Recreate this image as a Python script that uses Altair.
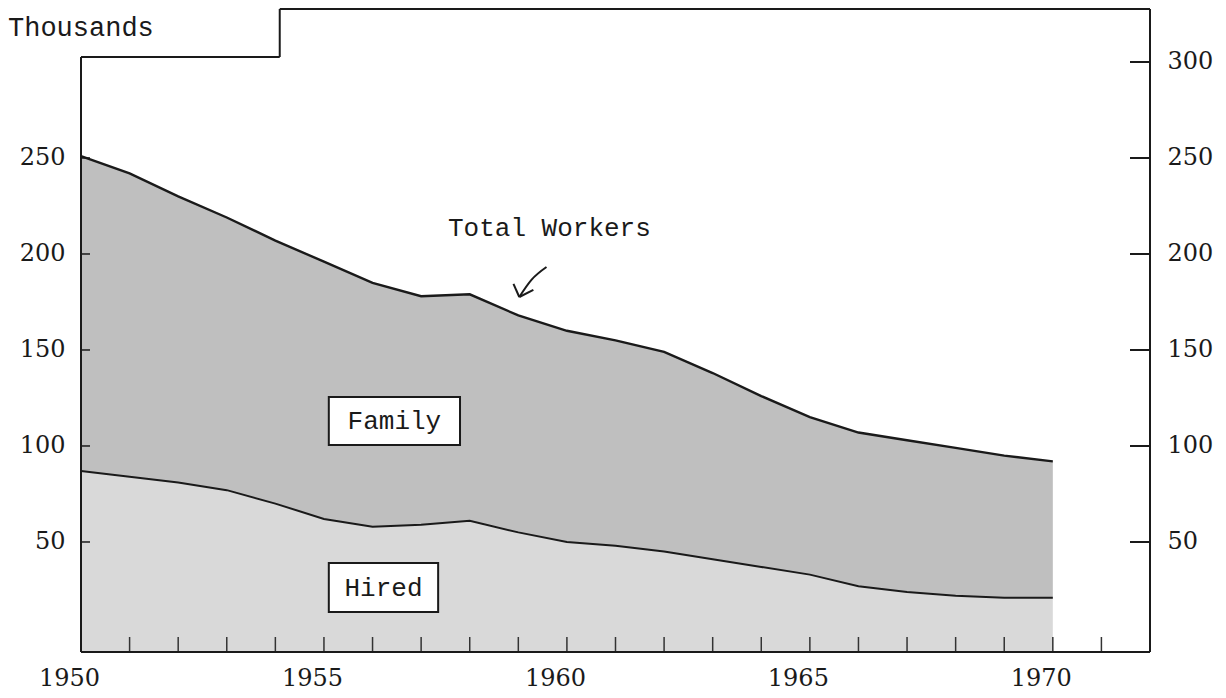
import altair as alt
import pandas as pd

# ---------------- data (thousands of workers) ----------------
years = list(range(1950, 1971))
total = [251, 242, 230, 219, 207, 196, 185, 178, 179, 168, 160,
         155, 149, 138, 126, 115, 107, 103, 99, 95, 92]
hired = [87, 84, 81, 77, 70, 62, 58, 59, 61, 55, 50,
         48, 45, 41, 37, 33, 27, 24, 22, 21, 21]

left_ticks = [50, 100, 150, 200, 250]
right_ticks = [50, 100, 150, 200, 250, 300]
year_labels = [1950, 1955, 1960, 1965, 1970]
year_ticks = list(range(1950, 1972))

# annotation boxes / texts (data units)
box_names = ["Family", "Hired"]
box_x0 = [1955.1, 1955.1]
box_x1 = [1957.8, 1957.35]
box_y0 = [100.5, 13.5]
box_y1 = [125.5, 39.0]

arrow_seg = [0, 0, 0, 1, 1, 2, 2]
arrow_x = [1959.58, 1959.27, 1959.02, 1959.02, 1958.90, 1959.02, 1959.31]
arrow_y = [193.2, 186.5, 177.6, 177.6, 184.4, 177.6, 181.3]
arrow_ord = [0, 1, 2, 0, 1, 0, 1]

# ---------------- layout constants ----------------
X_MIN, X_MAX = 1950, 1972
Y_MIN, Y_MAX = -7.3, 327.6
STEP_X, STEP_Y = 1954.09, 302.6
W, H = 1069, 643

FAMILY_FILL = "#bfbfbf"
HIRED_FILL = "#d9d9d9"
INK = "#1a1a1a"
NUM_FONT = "DejaVu Serif"
TYPE_FONT = "Liberation Mono"

df = pd.DataFrame({"year": years, "total": total, "hired": hired})
xs = alt.Scale(domain=[X_MIN, X_MAX], nice=False, zero=False)
ys = alt.Scale(domain=[Y_MIN, Y_MAX], nice=False, zero=False)

X_AXIS = alt.Axis(
    values=year_labels, format="d", ticks=False, domain=False, grid=False,
    labelFont=NUM_FONT, labelFontSize=24, labelColor=INK,
    labelPadding=14, labelOffset=-12, labelFlush=False,
    title=None, orient="bottom")


def X(field):
    return alt.X(field, scale=xs, axis=X_AXIS)


base = alt.Chart(df)

hired_area = base.mark_area(color=HIRED_FILL, opacity=1).encode(
    x=X("year:Q"),
    y=alt.Y("hired:Q", scale=ys, axis=None),
    y2=alt.datum(Y_MIN),
)

family_area = base.mark_area(color=FAMILY_FILL, opacity=1).encode(
    x=X("year:Q"),
    y=alt.Y("total:Q", scale=ys, axis=None),
    y2="hired:Q",
)

total_line = base.mark_line(color=INK, strokeWidth=2.4).encode(
    x=X("year:Q"),
    y=alt.Y("total:Q", scale=ys, axis=None),
)
hired_line = base.mark_line(color=INK, strokeWidth=2).encode(
    x=X("year:Q"),
    y=alt.Y("hired:Q", scale=ys, axis=None),
)

# frame (stepped top border)
frame = pd.DataFrame({
    "x": [X_MIN, X_MIN, STEP_X, STEP_X, X_MAX, X_MIN],
    "x2": [X_MIN, STEP_X, STEP_X, X_MAX, X_MAX, X_MAX],
    "y": [Y_MIN, STEP_Y, STEP_Y, Y_MAX, Y_MIN, Y_MIN],
    "y2": [STEP_Y, STEP_Y, Y_MAX, Y_MAX, Y_MAX, Y_MIN],
})
frame_rules = alt.Chart(frame).mark_rule(color=INK, strokeWidth=2).encode(
    x=X("x:Q"), x2="x2:Q",
    y=alt.Y("y:Q", scale=ys, axis=None), y2="y2:Q",
)

# left ticks + left labels
lt = pd.DataFrame({"v": left_ticks})
left_tick_layer = alt.Chart(lt).mark_rule(color=INK, strokeWidth=1.5).encode(
    x=alt.value(0), x2=alt.value(9),
    y=alt.Y("v:Q", scale=ys, axis=alt.Axis(
        orient="left", values=left_ticks, ticks=False, domain=False, grid=False,
        labelFont=NUM_FONT, labelFontSize=24, labelColor=INK,
        labelPadding=16, title=None)),
)

# right ticks + right labels
rt = pd.DataFrame({"v": right_ticks})
right_tick_layer = alt.Chart(rt).mark_rule(color=INK, strokeWidth=2).encode(
    x=alt.value(W - 20), x2=alt.value(W),
    y=alt.Y("v:Q", scale=ys, axis=alt.Axis(
        orient="right", values=right_ticks, ticks=False, domain=False, grid=False,
        labelFont=NUM_FONT, labelFontSize=24, labelColor=INK,
        labelPadding=17, title=None)),
)

# bottom year ticks (drawn inward)
yt = pd.DataFrame({"yr": year_ticks})
year_tick_layer = alt.Chart(yt).mark_rule(color="#333333", strokeWidth=1.5).encode(
    x=X("yr:Q"),
    y=alt.value(H), y2=alt.value(H - 15),
)

# label boxes
boxes = pd.DataFrame({"name": box_names, "x0": box_x0, "x1": box_x1,
                      "y0": box_y0, "y1": box_y1})
boxes["cx"] = (boxes["x0"] + boxes["x1"]) / 2
boxes["cy"] = (boxes["y0"] + boxes["y1"]) / 2
box_rect = alt.Chart(boxes).mark_rect(fill="white", stroke=INK, strokeWidth=2).encode(
    x=X("x0:Q"), x2="x1:Q",
    y=alt.Y("y0:Q", scale=ys, axis=None), y2="y1:Q",
)
box_text = alt.Chart(boxes).mark_text(font=TYPE_FONT, fontSize=26, color=INK,
                                      align="center", baseline="middle").encode(
    x=X("cx:Q"),
    y=alt.Y("cy:Q", scale=ys, axis=None),
    text="name:N",
)

# "Total Workers" label and arrow
tw = pd.DataFrame({"x": [1959.64], "y": [213.5], "t": ["Total Workers"]})
tw_text = alt.Chart(tw).mark_text(font=TYPE_FONT, fontSize=26, color=INK,
                                  align="center", baseline="middle").encode(
    x=X("x:Q"),
    y=alt.Y("y:Q", scale=ys, axis=None),
    text="t:N",
)
arr = pd.DataFrame({"seg": arrow_seg, "x": arrow_x, "y": arrow_y, "o": arrow_ord})
arrow = alt.Chart(arr).mark_line(color=INK, strokeWidth=2, interpolate="monotone").encode(
    x=X("x:Q"),
    y=alt.Y("y:Q", scale=ys, axis=None),
    detail="seg:N",
    order="o:Q",
)

# "Thousands" heading
th = pd.DataFrame({"t": ["Thousands"]})
th_text = alt.Chart(th).mark_text(font=TYPE_FONT, fontSize=27, color=INK,
                                  align="left", baseline="middle").encode(
    x=alt.value(-73), y=alt.value(19), text="t:N",
)

chart = alt.layer(
    hired_area, family_area, total_line, hired_line, year_tick_layer,
    left_tick_layer, right_tick_layer, frame_rules,
    box_rect, box_text, tw_text, arrow, th_text,
).resolve_axis(y="independent").properties(
    width=W, height=H,
    autosize=alt.AutoSizeParams(type="none"),
    padding={"left": 73, "top": 1, "right": 64, "bottom": 44},
    background="white",
).configure_view(strokeWidth=0)

chart.save("out.html", embed_options={"renderer": "svg", "actions": False})
